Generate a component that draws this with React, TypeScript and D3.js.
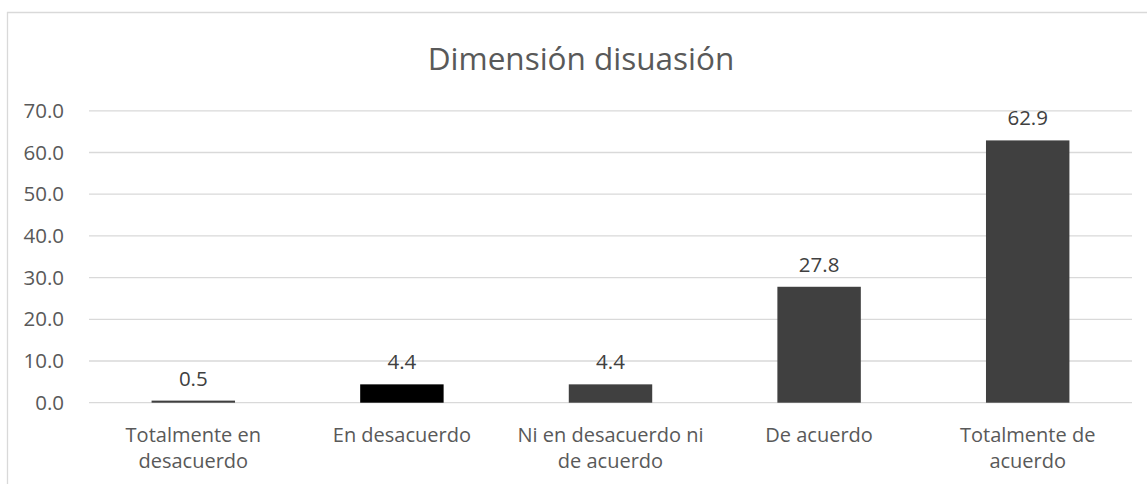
import React from 'react';
import * as d3 from 'd3';

const title = 'Dimensión disuasión';
const categories = [
  'Totalmente en desacuerdo',
  'En desacuerdo',
  'Ni en desacuerdo ni de acuerdo',
  'De acuerdo',
  'Totalmente de acuerdo',
];
const values = [0.5, 4.4, 4.4, 27.8, 62.9];
const yTicks = [0, 10, 20, 30, 40, 50, 60, 70];

const W = 1147;
const H = 484;
const FONT = '"Open Sans", "Noto Sans", sans-serif';
const TEXT = '#595959';
const GRID = '#d9d9d9';

// greedy word wrap, like Excel does for the category labels
function wrap(label: string, maxChars = 19): string[] {
  const lines: string[] = [];
  let cur = '';
  label.split(' ').forEach(w => {
    const next = cur ? cur + ' ' + w : w;
    if (next.length > maxChars && cur) {
      lines.push(cur);
      cur = w;
    } else cur = next;
  });
  if (cur) lines.push(cur);
  return lines;
}

export default function App() {
  const x = d3.scaleBand<string>()
    .domain(categories)
    .range([89, 1132])
    .paddingInner(0.6)
    .paddingOuter(0.3);

  const y = d3.scaleLinear()
    .domain([0, 70])
    .range([402.7, 110.8]);

  const fmt = d3.format('.1f');
  const barColor = (c: string) => (c === 'En desacuerdo' ? '#000000' : '#404040');

  return (
    <svg width={W} height={H} style={{ position: 'absolute', left: 0, top: 0, background: '#fff' }}>
      <rect x={0} y={0} width={W} height={H} fill="#fff" />
      {/* chart frame */}
      <line x1={7.5} y1={12} x2={7.5} y2={H} stroke={GRID} strokeWidth={1.3} />
      <line x1={7} y1={12.5} x2={W} y2={12.5} stroke={GRID} strokeWidth={1.3} />

      <text x={581} y={70} textAnchor="middle" fill={TEXT} fontFamily={FONT} fontSize={31.5}>
        {title}
      </text>

      {yTicks.map(t => (
        <g key={t}>
          <line x1={89} x2={1132} y1={y(t)} y2={y(t)} stroke={GRID} strokeWidth={1.3} />
          <text x={64} y={y(t)} dy="0.35em" textAnchor="end" fill={TEXT} fontFamily={FONT} fontSize={20.5}>
            {fmt(t)}
          </text>
        </g>
      ))}

      {categories.map((c, i) => {
        const bx = x(c)!;
        const cx = bx + x.bandwidth() / 2;
        return (
          <g key={c}>
            <rect
              x={bx}
              y={y(values[i])}
              width={x.bandwidth()}
              height={y(0) - y(values[i])}
              fill={barColor(c)}
            />
            <text x={cx} y={y(values[i]) - 15} textAnchor="middle" fill="#404040" fontFamily={FONT} fontSize={20.5}>
              {fmt(values[i])}
            </text>
            {wrap(c).map((line, j) => (
              <text key={j} x={cx} y={442 + j * 26} textAnchor="middle" fill={TEXT} fontFamily={FONT} fontSize={20}>
                {line}
              </text>
            ))}
          </g>
        );
      })}
    </svg>
  );
}
